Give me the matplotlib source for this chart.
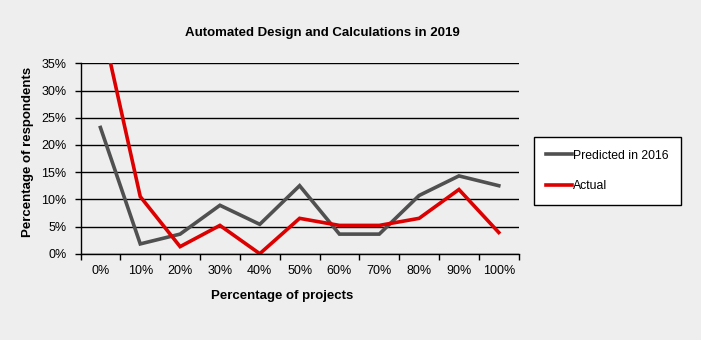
import matplotlib.pyplot as plt
from matplotlib.ticker import FuncFormatter

plt.rcParams['font.family'] = ['Liberation Sans', 'DejaVu Sans']

# share of respondents per project-percentage bucket
buckets = ['0%', '10%', '20%', '30%', '40%', '50%', '60%', '70%', '80%', '90%', '100%']
predicted_2016 = [23.2, 1.8, 3.6, 8.9, 5.4, 12.5, 3.6, 3.6, 10.7, 14.3, 12.5]
actual = [43.4, 10.5, 1.3, 5.2, 0.0, 6.5, 5.2, 5.2, 6.5, 11.8, 3.9]

bg = '#eeeeee'
fig = plt.figure(figsize=(7.01, 3.40), dpi=100, facecolor=bg)
ax = fig.add_axes([80.5 / 701, 1 - 253.7 / 340, (518.7 - 80.5) / 701, (253.7 - 63.3) / 340])
ax.set_facecolor(bg)

x = list(range(len(buckets)))
ax.plot(x, predicted_2016, color='#505050', lw=2.6, label='Predicted in 2016', solid_joinstyle='miter')
ax.plot(x, actual, color='#dd0000', lw=2.6, label='Actual', solid_joinstyle='miter')

ax.set_xlim(-0.5, len(buckets) - 0.5)
ax.set_ylim(0, 35)
ax.set_yticks(range(0, 36, 5))
ax.yaxis.set_major_formatter(FuncFormatter(lambda v, p: f'{int(v)}%'))
ax.grid(axis='y', color='black', lw=1)
ax.set_axisbelow(True)

# category labels sit between the tick marks
ax.set_xticks([i - 0.5 for i in range(len(buckets) + 1)])
ax.set_xticklabels([])
ax.set_xticks(x, minor=True)
ax.set_xticklabels(buckets, minor=True)
ax.tick_params(axis='x', which='minor', length=0, pad=8, labelsize=9)
ax.tick_params(axis='x', which='major', length=4, width=1, direction='out')
ax.tick_params(axis='y', length=4, width=1, direction='out', pad=6, labelsize=9)

for s in ['top', 'right']:
    ax.spines[s].set_visible(False)
for s in ['left', 'bottom']:
    ax.spines[s].set_color('black')
    ax.spines[s].set_linewidth(1)

fig.text(322 / 701, 1 - 33 / 340, 'Automated Design and Calculations in 2019',
         ha='center', va='center', fontsize=9.5, fontweight='bold')
fig.text(28 / 701, 1 - 152 / 340, 'Percentage of respondents', rotation=90,
         ha='center', va='center', fontsize=9.5, fontweight='bold')
fig.text(282 / 701, 1 - 296 / 340, 'Percentage of projects',
         ha='center', va='center', fontsize=9.5, fontweight='bold')

leg = fig.legend(loc='center', bbox_to_anchor=(607.5 / 701, 1 - 171 / 340), frameon=True,
                 fancybox=False, edgecolor='black', facecolor='white', framealpha=1,
                 fontsize=8.8, handlelength=2.1, handletextpad=0.1, labelspacing=1.55,
                 borderpad=1.0, borderaxespad=0)
leg.get_frame().set_linewidth(1)

fig.savefig('out.png', dpi=100, facecolor=bg)
